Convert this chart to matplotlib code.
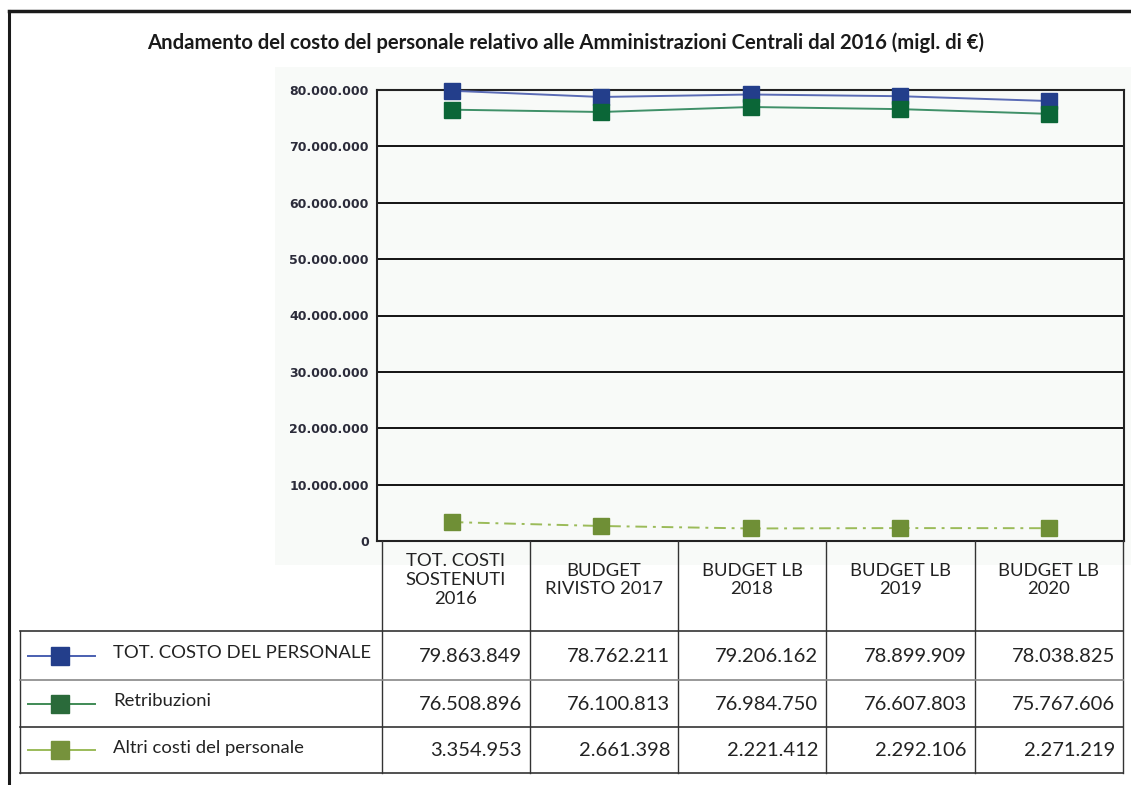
import matplotlib.pyplot as plt
from matplotlib.ticker import FuncFormatter

# data
categories = ['TOT. COSTI\nSOSTENUTI\n2016', 'BUDGET\nRIVISTO 2017', 'BUDGET LB\n2018',
              'BUDGET LB\n2019', 'BUDGET LB\n2020']
series_names = ['TOT. COSTO DEL PERSONALE', 'Retribuzioni', 'Altri costi del personale']
tot_costo = [79863849, 78762211, 79206162, 78899909, 78038825]
retribuzioni = [76508896, 76100813, 76984750, 76607803, 75767606]
altri_costi = [3354953, 2661398, 2221412, 2292106, 2271219]
y_ticks = [0, 10000000, 20000000, 30000000, 40000000, 50000000, 60000000, 70000000, 80000000]

series = [tot_costo, retribuzioni, altri_costi]
marker_colors = ['#233e8b', '#0b6637', '#6f8f36']
line_colors = ['#5a6bb5', '#3f9068', '#9bbb59']
line_styles = ['-', '-', (0, (6, 3, 1.5, 3))]
legend_marker_colors = ['#233e8b', '#2a6a3a', '#76923c']
legend_line_colors = ['#4a5fb0', '#3f8a55', '#9bbb59']

TXT = 'Lato'
W, H = 1131, 785
fig = plt.figure(figsize=(W / 100, H / 100), dpi=100)


def fx(px):
    return px / W


def fy(py):
    return 1 - py / H


# background overlay in pixel coordinates
bg = fig.add_axes([0, 0, 1, 1], zorder=0)
bg.set_xlim(0, W)
bg.set_ylim(H, 0)
bg.axis('off')
bg.add_patch(plt.Rectangle((275, 67), W - 275, 498, color='#f8faf8', lw=0))

# chart
left, right, top, bottom = 377, 1124, 90, 541
ax = fig.add_axes([fx(left), fy(bottom), fx(right - left), fy(top) - fy(bottom)], zorder=1)
ax.set_facecolor('#f8faf8')
x = list(range(len(categories)))
for vals, name, mc, lc, ls in zip(series, series_names, marker_colors, line_colors, line_styles):
    ax.plot(x, vals, color=lc, lw=1.4, ls=ls, marker='s', markersize=11.5,
            markerfacecolor=mc, markeredgecolor=mc, label=name, zorder=3, clip_on=False)
ax.set_xlim(-0.5, len(categories) - 0.5)
ax.set_ylim(0, 80000000)
ax.set_yticks(y_ticks)
ax.yaxis.set_major_formatter(FuncFormatter(lambda v, p: f'{int(v):,}'.replace(',', '.')))
ax.tick_params(axis='y', length=0, pad=6, labelsize=9, labelcolor='#2b2b3a')
ax.set_xticks([])
for lab in ax.get_yticklabels():
    lab.set_fontweight('bold')
    lab.set_family('DejaVu Sans')
ax.grid(axis='y', color='black', lw=1.3)
for s in ax.spines.values():
    s.set_color('#222222')
    s.set_linewidth(1.5)

# overlay for frame, title and table
ov = fig.add_axes([0, 0, 1, 1], zorder=2)
ov.set_xlim(0, W)
ov.set_ylim(H, 0)
ov.axis('off')
ov.patch.set_alpha(0)

ov.plot([9, 9], [11, H], color='#1a1a1a', lw=2.2)
ov.plot([9, W], [11, 11], color='#1a1a1a', lw=2.5)
ov.text(566, 43, 'Andamento del costo del personale relativo alle Amministrazioni Centrali dal 2016 (migl. di \u20ac)',
        ha='center', va='center', fontsize=14.6, fontweight='bold', family=TXT, color='#1a1a1a')

col_edges = [382, 530, 678, 826, 975, 1123]
row_edges = [631, 680, 727, 773]

# header cells
for i, cat in enumerate(categories):
    ov.text((col_edges[i] + col_edges[i + 1]) / 2, 580, cat, ha='center', va='center',
            fontsize=13.3, family=TXT, color='#222222', linespacing=1.22)
for cx in col_edges:
    ov.plot([cx, cx], [541, row_edges[-1]], color='#333333', lw=1)
ov.plot([20, 20], [row_edges[0], row_edges[-1]], color='#333333', lw=1)
for j, ry in enumerate(row_edges):
    ov.plot([20, col_edges[-1]], [ry, ry], color='#888888' if j == 1 else '#333333', lw=1.2)

# body rows
for j, (vals, name) in enumerate(zip(series, series_names)):
    cy = (row_edges[j] + row_edges[j + 1]) / 2
    ov.plot([28, 95], [cy, cy], color=legend_line_colors[j], lw=1.4)
    ov.plot([60], [cy], marker='s', markersize=13, color=legend_marker_colors[j])
    ov.text(113, cy - 2, name, ha='left', va='center', fontsize=13.3, family=TXT, color='#222222')
    for i, v in enumerate(vals):
        ov.text(col_edges[i + 1] - 8, cy + 1, f'{v:,}'.replace(',', '.'), ha='right', va='center',
                fontsize=14.5, family=TXT, color='#222222')

fig.savefig('out.png', dpi=100)
